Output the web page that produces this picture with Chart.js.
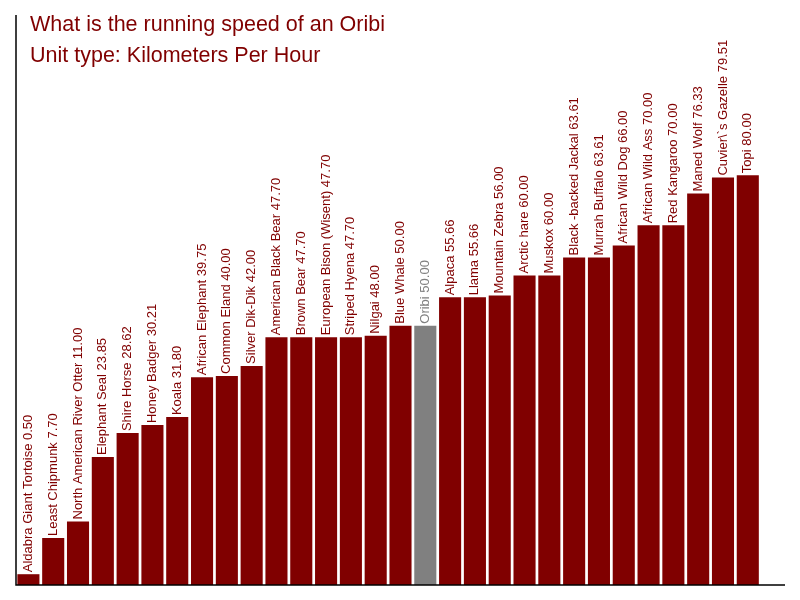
<!DOCTYPE html>
<html>
<head>
<meta charset="utf-8">
<script src="https://cdn.jsdelivr.net/npm/chart.js@4/dist/chart.umd.min.js"></script>
<style>
html,body{margin:0;padding:0;background:#fff;}
#wrap{width:800px;height:600px;}
</style>
</head>
<body>
<div id="wrap"><canvas id="c" width="800" height="600"></canvas></div>
<script>
const titleLines = ["What is the running speed of an Oribi", "Unit type: Kilometers Per Hour"];
const categories = ["Aldabra Giant Tortoise","Least Chipmunk","North American River Otter","Elephant Seal","Shire Horse","Honey Badger","Koala","African Elephant","Common Eland","Silver Dik-Dik","American Black Bear","Brown Bear","European Bison (Wisent)","Striped Hyena","Nilgai","Blue Whale","Oribi","Alpaca","Llama","Mountain Zebra","Arctic hare","Muskox","Black -backed Jackal","Murrah Buffalo","African Wild Dog","African Wild Ass","Red Kangaroo","Maned Wolf","Cuvier\\`s Gazelle","Topi"];
const speeds = [0.50,7.70,11.00,23.85,28.62,30.21,31.80,39.75,40.00,42.00,47.70,47.70,47.70,47.70,48.00,50.00,50.00,55.66,55.66,56.00,60.00,60.00,63.61,63.61,66.00,70.00,70.00,76.33,79.51,80.00];
const highlight = "Oribi";

const mainColor = "#800000";
const hiColor = "#808080";
const yMin = -1.65;
const yMax = 111.9;

const labels = categories.concat([""]);
const values = speeds.concat([null]);
const colors = labels.map(l => l === highlight ? hiColor : mainColor);

const overlay = {
  id: "overlay",
  afterDatasetsDraw(chart) {
    const ctx = chart.ctx;
    const meta = chart.getDatasetMeta(0);
    ctx.save();
    ctx.font = "13px 'Liberation Sans', Arial, sans-serif";
    ctx.textAlign = "left";
    ctx.textBaseline = "middle";
    meta.data.forEach((bar, i) => {
      if (values[i] === null) return;
      const txt = labels[i] + " " + values[i].toFixed(2);
      ctx.save();
      ctx.translate(bar.x, bar.y - 2);
      ctx.rotate(-Math.PI / 2);
      ctx.fillStyle = labels[i] === highlight ? hiColor : mainColor;
      ctx.fillText(txt, 0, 0);
      ctx.restore();
    });
    const a = chart.chartArea;
    ctx.strokeStyle = "#000";
    ctx.lineWidth = 1.5;
    ctx.beginPath();
    ctx.moveTo(a.left, a.top);
    ctx.lineTo(a.left, a.bottom);
    ctx.lineTo(a.right, a.bottom);
    ctx.stroke();
    ctx.font = "21.5px 'Liberation Sans', Arial, sans-serif";
    ctx.fillStyle = mainColor;
    ctx.textBaseline = "alphabetic";
    ctx.fillText(titleLines[0], 30, 31);
    ctx.fillText(titleLines[1], 30, 62);
    ctx.restore();
  }
};

new Chart(document.getElementById("c"), {
  type: "bar",
  data: {
    labels: labels,
    datasets: [{
      data: values,
      base: yMin,
      backgroundColor: colors,
      borderWidth: 0,
      barPercentage: 0.89,
      categoryPercentage: 1.0
    }]
  },
  options: {
    responsive: false,
    animation: false,
    layout: { padding: { left: 16, top: 15, right: 15, bottom: 15 } },
    plugins: { legend: { display: false }, title: { display: false }, tooltip: { enabled: false } },
    scales: {
      x: { display: false },
      y: { display: false, min: yMin, max: yMax }
    }
  },
  plugins: [overlay]
});
</script>
</body>
</html>
